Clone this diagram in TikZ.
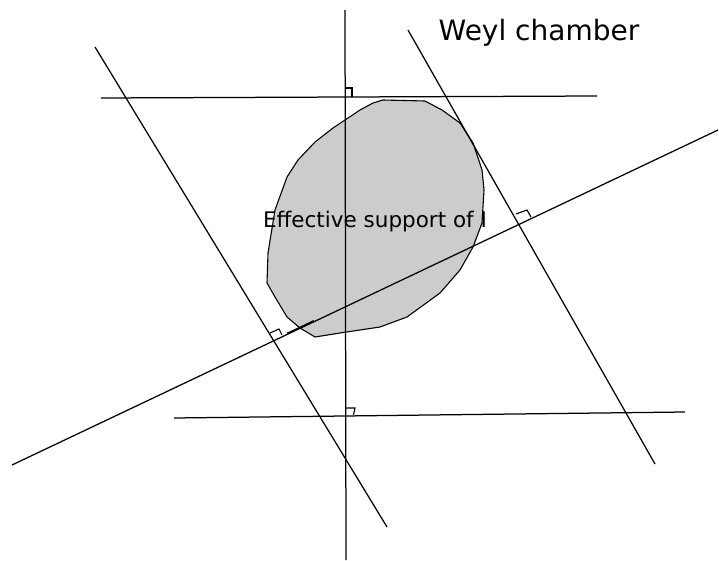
\documentclass[tikz,border=0pt]{standalone}
\usepackage{fontspec}
\setmainfont{DejaVu Sans}
\begin{document}
\begin{tikzpicture}[x=1pt,y=-1pt,
  ln/.style={line width=1.25pt,black},
  rmark/.style={line width=1.1pt,black},
  blob/.style={fill={rgb,255:red,204;green,204;blue,204},draw=black,line width=1.1pt}]
\useasboundingbox (0,0) rectangle (719,561);
% blob
\draw[blob] (383,100) -- (425,101) -- (442,110) -- (460,123) -- (473,143) -- (482,170) -- (484,190) -- (482,223) -- (473,247) -- (460,270) -- (440,293) -- (407,317) -- (380,327) -- (340,333) -- (315,337) -- (300,328) -- (287,317) -- (275,297) -- (267,283) -- (268,253) -- (275,210) -- (287,177) -- (298,160) -- (315,142) -- (333,128) -- (360,110) -- (373,103) -- cycle;
% lines
\coordinate (v1) at (345,10);   \coordinate (v2) at (346,560);
\coordinate (h1) at (101,98);   \coordinate (h2) at (597,96);
\coordinate (g1) at (174,418);  \coordinate (g2) at (685,412);
\coordinate (l1) at (95,47);    \coordinate (l2) at (387,527);
\coordinate (r1) at (408,30);   \coordinate (r2) at (655,464);
\coordinate (d1) at (12,465);   \coordinate (d2) at (718,130);
\draw[ln] (v1) -- (v2);
\draw[ln] (h1) -- (h2);
\draw[ln] (g1) -- (g2);
\draw[ln] (l1) -- (l2);
\draw[ln] (r1) -- (r2);
\draw[ln] (d1) -- (d2);
\coordinate (s1) at (287,333.4); \coordinate (s2) at (314,320.6);
\draw[ln] (s1) -- (s2);
% right-angle marks
\draw[rmark] (345.5,88) -- (352,88) -- (352,97);
\draw[rmark] (345.5,408) -- (355,408) -- (353.5,415);
\draw[rmark] (516,214) -- (527,210) -- (531,217);
\draw[rmark] (270,333) -- (279,329) -- (282,335);
% texts
\node (wc) at (539,33) {\fontsize{28}{33}\selectfont Weyl chamber};
\node (es) at (375,222) {\fontsize{21.5}{26}\selectfont Effective support of I};
\end{tikzpicture}
\end{document}
